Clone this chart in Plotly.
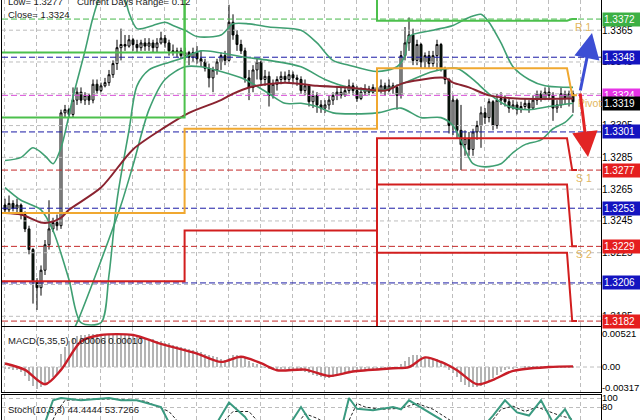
import plotly.graph_objects as go

# ---------------- data ----------------
bars = list(range(143))
opens = [
1.3255,1.3252,1.3256,1.3253,1.3255,1.3249,1.3240,1.3227,1.3207,1.3203,
1.3214,1.3230,1.3240,1.3244,1.3242,1.3313,1.3315,1.3312,1.3321,1.3326,
1.3321,1.3324,1.3321,1.3331,1.3327,1.3330,1.3332,1.3337,1.3344,1.3354,
1.3356,1.3355,1.3359,1.3356,1.3354,1.3357,1.3355,1.3357,1.3354,1.3357,
1.3360,1.3357,1.3352,1.3351,1.3352,1.3349,1.3351,1.3348,1.3351,1.3347,
1.3345,1.3341,1.3335,1.3340,1.3345,1.3349,1.3346,1.3370,1.3362,1.3356,
1.3352,1.3335,1.3329,1.3340,1.3345,1.3334,1.3336,1.3324,1.3331,1.3334,
1.3336,1.3334,1.3337,1.3335,1.3334,1.3327,1.3330,1.3320,1.3324,1.3318,
1.3316,1.3318,1.3321,1.3324,1.3326,1.3324,1.3327,1.3330,1.3327,1.3322,
1.3326,1.3328,1.3326,1.3329,1.3327,1.3330,1.3327,1.3330,1.3329,1.3324,
1.3349,1.3357,1.3362,1.3346,1.3356,1.3345,1.3349,1.3344,1.3349,1.3356,
1.3341,1.3334,1.3305,1.3321,1.3302,1.3293,1.3297,1.3290,1.3301,1.3305,
1.3313,1.3310,1.3320,1.3305,1.3321,1.3322,1.3320,1.3316,1.3318,1.3315,
1.3317,1.3319,1.3316,1.3321,1.3325,1.3322,1.3326,1.3324,1.3316,1.3318,
1.3325,1.3322,1.3325]
highs = [
1.3259,1.3261,1.3258,1.3259,1.3256,1.3251,1.3242,1.3228,1.3209,1.3217,
1.3233,1.3258,1.3247,1.3249,1.3315,1.3318,1.3316,1.3329,1.3329,1.3329,
1.3326,1.3325,1.3334,1.3334,1.3332,1.3335,1.3340,1.3346,1.3359,1.3366,
1.3362,1.3362,1.3360,1.3359,1.3359,1.3360,1.3360,1.3359,1.3360,1.3364,
1.3362,1.3359,1.3356,1.3354,1.3354,1.3354,1.3352,1.3354,1.3355,1.3352,
1.3347,1.3344,1.3342,1.3347,1.3351,1.3352,1.3381,1.3375,1.3365,1.3359,
1.3354,1.3340,1.3343,1.3347,1.3346,1.3340,1.3339,1.3334,1.3336,1.3339,
1.3339,1.3340,1.3339,1.3337,1.3336,1.3334,1.3331,1.3327,1.3326,1.3321,
1.3321,1.3324,1.3326,1.3330,1.3329,1.3330,1.3334,1.3332,1.3330,1.3329,
1.3331,1.3330,1.3331,1.3332,1.3334,1.3332,1.3334,1.3332,1.3331,1.3352,
1.3367,1.3373,1.3366,1.3359,1.3357,1.3351,1.3352,1.3352,1.3359,1.3357,
1.3342,1.3335,1.3324,1.3322,1.3318,1.3302,1.3301,1.3303,1.3308,1.3317,
1.3316,1.3322,1.3321,1.3325,1.3326,1.3324,1.3322,1.3321,1.3320,1.3320,
1.3322,1.3321,1.3324,1.3327,1.3327,1.3329,1.3329,1.3326,1.3321,1.3329,
1.3327,1.3327,1.3327]
lows = [
1.3250,1.3250,1.3251,1.3249,1.3246,1.3238,1.3224,1.3193,1.3189,1.3198,
1.3211,1.3227,1.3238,1.3239,1.3240,1.3310,1.3310,1.3310,1.3318,1.3319,
1.3318,1.3318,1.3319,1.3325,1.3326,1.3329,1.3330,1.3335,1.3340,1.3346,
1.3352,1.3354,1.3352,1.3351,1.3352,1.3352,1.3352,1.3351,1.3351,1.3356,
1.3354,1.3349,1.3349,1.3348,1.3347,1.3346,1.3343,1.3345,1.3344,1.3342,
1.3339,1.3329,1.3326,1.3337,1.3340,1.3343,1.3345,1.3359,1.3352,1.3350,
1.3332,1.3321,1.3326,1.3334,1.3331,1.3330,1.3317,1.3322,1.3327,1.3331,
1.3332,1.3332,1.3331,1.3330,1.3325,1.3324,1.3317,1.3316,1.3313,1.3313,
1.3313,1.3315,1.3318,1.3321,1.3322,1.3323,1.3325,1.3324,1.3320,1.3321,
1.3324,1.3324,1.3325,1.3325,1.3325,1.3324,1.3326,1.3325,1.3315,1.3322,
1.3346,1.3352,1.3343,1.3343,1.3341,1.3341,1.3341,1.3342,1.3340,1.3339,
1.3331,1.3300,1.3299,1.3297,1.3277,1.3286,1.3286,1.3286,1.3296,1.3291,
1.3306,1.3307,1.3302,1.3303,1.3318,1.3317,1.3313,1.3315,1.3312,1.3313,
1.3315,1.3313,1.3315,1.3318,1.3320,1.3321,1.3321,1.3308,1.3313,1.3316,
1.3318,1.3317,1.3313]
closes = [
1.3252,1.3256,1.3253,1.3255,1.3249,1.3240,1.3227,1.3207,1.3203,1.3214,
1.3230,1.3240,1.3244,1.3242,1.3313,1.3315,1.3312,1.3321,1.3326,1.3321,
1.3324,1.3321,1.3331,1.3327,1.3330,1.3332,1.3337,1.3344,1.3354,1.3356,
1.3355,1.3359,1.3356,1.3354,1.3357,1.3355,1.3357,1.3354,1.3357,1.3360,
1.3357,1.3352,1.3351,1.3352,1.3349,1.3351,1.3348,1.3351,1.3347,1.3345,
1.3341,1.3335,1.3340,1.3345,1.3349,1.3346,1.3370,1.3362,1.3356,1.3352,
1.3335,1.3329,1.3340,1.3345,1.3334,1.3336,1.3324,1.3331,1.3334,1.3336,
1.3334,1.3337,1.3335,1.3334,1.3327,1.3330,1.3320,1.3324,1.3318,1.3316,
1.3318,1.3321,1.3324,1.3326,1.3324,1.3327,1.3330,1.3327,1.3322,1.3326,
1.3328,1.3326,1.3329,1.3327,1.3330,1.3327,1.3330,1.3329,1.3324,1.3349,
1.3357,1.3362,1.3346,1.3356,1.3345,1.3349,1.3344,1.3349,1.3356,1.3341,
1.3334,1.3305,1.3321,1.3302,1.3293,1.3297,1.3290,1.3301,1.3305,1.3313,
1.3310,1.3320,1.3305,1.3321,1.3322,1.3320,1.3316,1.3318,1.3315,1.3317,
1.3319,1.3316,1.3321,1.3325,1.3322,1.3326,1.3324,1.3316,1.3318,1.3325,
1.3322,1.3325,1.3320]

band_up_x = [0,4,7,10,12,14,17,20,22,24,27,30,31,33,37,40,42,45,48,54,
             57,61,66,74,78,82,86,93,98,100,101,107,112,116,119,121,124,127,131,135,142]
band_up = [1.3283,1.3285,1.3291,1.3286,1.3281,1.3291,1.3323,1.3352,1.3373,1.3387,
           1.3392,1.3384,1.3376,1.3366,1.3368,1.3370,1.3368,1.3365,1.3361,1.3362,
           1.3369,1.3369,1.3367,1.3365,1.3357,1.3346,1.3343,1.3339,1.3342,1.3349,
           1.3361,1.3365,1.3368,1.3373,1.3375,1.3370,1.3357,1.3342,1.3334,1.3330,1.3329]
band_mid_x = [0,4,9,12,16,19,24,26,28,31,33,36,40,45,49,60,66,74,80,86,
              94,100,107,113,117,121,126,131,136,142]
band_mid = [1.3266,1.3258,1.3252,1.3239,1.3208,1.3181,1.3181,1.3211,1.3258,1.3302,
            1.3330,1.3340,1.3344,1.3348,1.3352,1.3348,1.3346,1.3342,1.3334,1.3329,
            1.3327,1.3332,1.3339,1.3341,1.3334,1.3325,1.3317,1.3315,1.3317,1.3319]
band_low_x = [17,18,24,29,32,36,40,45,49,54,60,66,70,74,78,82,93,99,104,109,
              112,115,117,120,124,127,130,134,137,140,142]
band_low = [1.3176,1.3181,1.3220,1.3255,1.3280,1.3315,1.3334,1.3342,1.3342,1.3339,
            1.3334,1.3325,1.3319,1.3319,1.3317,1.3313,1.3313,1.3316,1.3310,1.3310,
            1.3305,1.3290,1.3281,1.3279,1.3281,1.3288,1.3293,1.3296,1.3303,1.3307,1.3312]
ma_x = [0,4,9,11,14,16,24,32,40,46,54,57,61,70,78,86,95,100,110,112,116,121,128,142]
ma_vals = [1.3250,1.3249,1.3244,1.3244,1.3247,1.3252,1.3266,1.3290,1.3304,1.3313,
           1.3321,1.3325,1.3329,1.3332,1.3330,1.3329,1.3327,1.3332,1.3335,1.3332,
           1.3329,1.3324,1.3322,1.3322]

# daily pivot levels: day1, day2, day3, next day
day_edges = [-1, 44.9, 93, 140.5, 141.8, 143]
piv_r2 = [1.3351, 1.3440, 1.3440, 1.3440]
piv_r1 = [1.3310, 1.3420, 1.3371, 1.3372]
piv_p = [1.3250, 1.3303, 1.3341, 1.3324]
piv_s1 = [1.3207, 1.3239, 1.3297, 1.3277]
piv_s2 = [1.3150, 1.3150, 1.3268, 1.3229]
piv_s3 = [1.3150, 1.3150, 1.3225, 1.3182]

level_values = [1.3372, 1.3348, 1.3324, 1.3301, 1.3277, 1.3253, 1.3229, 1.3206, 1.3182]
level_kinds = ['R', 'M', 'P', 'M', 'S', 'M', 'S', 'M', 'S']
current_price = 1.3319
grid_levels = [1.3185, 1.3205, 1.3225, 1.3245, 1.3265, 1.3285, 1.3305, 1.3325, 1.3345, 1.3365]
price_ticks = [1.3185, 1.3225, 1.3245, 1.3265, 1.3285, 1.3305, 1.3345, 1.3365]

macd_hist = [
-0.0002,-0.0003,-0.0004,-0.0005,-0.0008,
-0.0014,-0.0022,-0.0030,-0.0034,-0.0032,-0.0028,
-0.0022,-0.0016,-0.0012,
0.0020,
0.0032,0.0040,0.0045,0.0048,0.0050,0.0050,0.0051,0.0052,0.0052,0.00521,0.0052,0.0052,0.0052,0.0052,0.0052,0.0051,0.0050,0.0049,
0.0048,0.0047,0.0045,0.0044,0.0043,0.0041,0.0040,0.0038,0.0037,0.0035,0.0033,0.0032,0.0030,0.0028,0.0026,0.0025,0.0023,0.0021,0.0019,0.0017,0.0015,0.0013,0.0011,
0.0014,0.0018,0.0019,0.0017,0.0014,0.0010,0.0007,0.0004,0.0002,
-0.0001,-0.0002,-0.0003,-0.0003,-0.0002,-0.0002,-0.0003,-0.0004,-0.0005,-0.0006,-0.0008,-0.0010,-0.0012,-0.0014,-0.0016,-0.0017,
-0.0017,-0.0016,-0.0014,-0.0012,-0.0010,-0.0009,-0.0008,
-0.0007,-0.0006,-0.0005,-0.0004,-0.0004,-0.0003,-0.0003,-0.0002,-0.0002,-0.0001,-0.0001,0.0004,
0.0010,0.0015,0.0018,0.0018,0.0017,0.0016,0.0014,0.0013,0.0012,0.0008,
0.0004,-0.0005,-0.0010,-0.0016,
-0.0024,-0.0028,-0.0031,-0.00317,-0.0031,-0.0029,-0.0026,-0.0022,-0.0017,
-0.0012,-0.0008,-0.0005,-0.0003,-0.0002,-0.0001,0.0000,0.0001,
0.0001,0.0001,0.0002,0.0002,0.0002,0.0001,0.0001,0.0001,0.0001,0.0001,0.0001,0.00006]
macd_sig_x = [0,5,10,14,19,24,32,39,48,54,59,64,68,75,81,87,97,101,105,109,113,118,122,127,136,142]
macd_sig = [0.00055,-0.00045,-0.0027,-0.00045,0.0040,0.0050,0.0050,0.0036,0.0021,0.0008,
            0.0016,0.0006,-0.0005,-0.0004,-0.0014,-0.0007,-0.0002,0.0,0.0015,0.0008,
            -0.0005,-0.0027,-0.0020,-0.0006,0.0,0.0001]
macd_ticks = [0.00521, 0.0, -0.00317]
macd_ticktext = ['0.00521', '0.00', '-0.00317']

stoch_x = [0,5,9,12,14,19,26,29,33,39,41,45,49,52,56,60,62,66,70,74,76,80,84,86,88,92,97,99,101,106,
           109,111,115,119,122,125,128,131,134,137,140,142]
stoch_main = [30,10,20,95,100,95,100,95,95,80,45,20,35,30,90,58,30,15,25,80,52,30,28,100,76,73,80,75,95,68,
              52,30,10,30,61,95,68,61,95,45,75,44.4444]
stoch_sig_x = [0,5,10,13,15,20,27,30,35,41,44,48,53,57,61,64,68,72,75,78,82,86,88,90,94,99,103,107,110,113,
               117,121,124,127,130,133,136,139,142]
stoch_sig = [35,15,15,70,95,97,98,96,93,70,40,28,32,70,70,40,22,30,65,55,35,50,88,80,75,77,88,75,55,35,
             18,40,75,82,70,80,70,60,53.7266]

# ---------------- styles ----------------
FONT = 'Liberation Sans, Arial, sans-serif'
GRID = '#bdbdbd'
GREEN_BAND = '#3f9f72'
kind_color = {'R': '#45b84a', 'M': '#1a1aa6', 'P': '#d94fd9', 'S': '#c42a2a'}
box_color = {'R': '#3cb044', 'M': '#1414c0', 'P': '#e633e6', 'S': '#e51e1e'}

fig = go.Figure()

XR = [-0.75, 149]

# grid lines of the price panel
for v in grid_levels:
    fig.add_trace(go.Scatter(x=[XR[0], XR[1]], y=[v, v], mode='lines',
                             line=dict(color=GRID, width=1, dash='4px,3px'), hoverinfo='skip'))

# dashed level lines
for v, k in zip(level_values, level_kinds):
    fig.add_trace(go.Scatter(x=[XR[0], XR[1]], y=[v, v], mode='lines',
                             line=dict(color=kind_color[k], width=1, dash='6px,3px'),
                             hoverinfo='skip'))

# bands and MA
sp = dict(shape='spline', smoothing=0.8)
fig.add_trace(go.Scatter(x=band_up_x, y=band_up, mode='lines', line=dict(color=GREEN_BAND, width=1.6, **sp)))
fig.add_trace(go.Scatter(x=band_mid_x, y=band_mid, mode='lines', line=dict(color=GREEN_BAND, width=1.6, **sp)))
fig.add_trace(go.Scatter(x=band_low_x, y=band_low, mode='lines', line=dict(color=GREEN_BAND, width=1.6, **sp)))
fig.add_trace(go.Scatter(x=ma_x, y=ma_vals, mode='lines', line=dict(color='#8a2330', width=2, **sp)))


def step(levels):
    e = day_edges
    xs = [e[0], e[1], e[1], e[2], e[2], e[3], e[4], e[5]]
    ys = [levels[0], levels[0], levels[1], levels[1], levels[2], levels[2], levels[3], levels[3]]
    return xs, ys


for lv, col in [(piv_r2, '#4cc04c'), (piv_r1, '#4cc04c'), (piv_p, '#f0a830'),
                (piv_s1, '#d21e1e'), (piv_s2, '#d21e1e'), (piv_s3, '#d21e1e')]:
    xs, ys = step(lv)
    fig.add_trace(go.Scatter(x=xs, y=ys, mode='lines', line=dict(color=col, width=2)))

# candles
fig.add_trace(go.Candlestick(x=bars, open=opens, high=highs, low=lows, close=closes,
                             increasing=dict(line=dict(color='black', width=1), fillcolor='white'),
                             decreasing=dict(line=dict(color='black', width=1), fillcolor='#0c1f10'),
                             whiskerwidth=0))

# MACD panel
fig.add_trace(go.Scatter(x=[XR[0], XR[1]], y=[0, 0], mode='lines', xaxis='x2', yaxis='y2',
                         line=dict(color=GRID, width=1, dash='4px,3px')))
fig.add_trace(go.Bar(x=bars, y=macd_hist, xaxis='x2', yaxis='y2', width=0.4,
                     marker=dict(color='#b4b4b4', line=dict(width=0))))
fig.add_trace(go.Scatter(x=macd_sig_x, y=macd_sig, mode='lines', xaxis='x2', yaxis='y2',
                         line=dict(color='#c81e28', width=2.4, **sp)))

# Stochastic panel
fig.add_trace(go.Scatter(x=stoch_sig_x, y=stoch_sig, mode='lines', xaxis='x3', yaxis='y3',
                         line=dict(color='#222222', width=1, dash='3px,2px')))
fig.add_trace(go.Scatter(x=stoch_x, y=stoch_main, mode='lines', xaxis='x3', yaxis='y3',
                         line=dict(color='#3a9a80', width=2)))

xcommon = dict(range=XR, showticklabels=False, showgrid=True, gridcolor=GRID, griddash='4px,3px',
               tick0=7.75, dtick=8, showline=True, mirror=True, linecolor='black', linewidth=1,
               zeroline=False, ticks='', fixedrange=True, automargin=False)
ycommon = dict(side='right', showline=True, mirror=True, linecolor='black', linewidth=1,
               zeroline=False, ticks='', gridcolor=GRID, griddash='4px,3px', fixedrange=True,
               automargin=False, ticklabelstandoff=-2)

fig.update_layout(
    template='none',
    width=640, height=420, margin=dict(l=2, r=39, t=0, b=0, pad=0, autoexpand=False),
    paper_bgcolor='white', plot_bgcolor='white', showlegend=False,
    font=dict(family=FONT, size=10, color='black'),
    bargap=0,
    xaxis=dict(**xcommon, anchor='y', domain=[0, 1], rangeslider=dict(visible=False)),
    xaxis2=dict(**xcommon, anchor='y2', domain=[0, 1], matches='x'),
    xaxis3=dict(**xcommon, anchor='y3', domain=[0, 1], matches='x'),
    yaxis=dict(**ycommon, domain=[0.2238, 1.0], range=[1.31789, 1.33840], anchor='x',
               tickvals=price_ticks, ticktext=[f'{t:.4f}' for t in price_ticks], showgrid=False,
               tickfont=dict(family=FONT, size=10, color='black')),
    yaxis2=dict(**ycommon, domain=[0.0667, 0.2214], range=[-0.0039, 0.00625], anchor='x2',
                tickvals=macd_ticks, ticktext=macd_ticktext, showgrid=False,
                tickfont=dict(family=FONT, size=9.5, color='black')),
    yaxis3=dict(**ycommon, domain=[0.0, 0.0595], range=[51.1, 106.7], anchor='x3',
                tickvals=[100, 80], ticktext=['100', '80'], showgrid=True,
                tickfont=dict(family=FONT, size=9.5, color='black')),
)

ann = []
# right-hand price boxes
for v, k in list(zip(level_values, level_kinds)) + [(current_price, 'C')]:
    bg = '#000000' if k == 'C' else box_color[k]
    ann.append(dict(x=1, xref='paper', xanchor='left', xshift=1, y=v, yref='y', yanchor='middle',
                    text=f'{v:.4f}', showarrow=False, bgcolor=bg, width=35, height=11, align='left',
                    borderpad=1, font=dict(family=FONT, size=10, color='white')))

# pivot labels
lab_col = '#e2b65e'
for txt, v, xx in [('R 1', piv_r1[3], 144.7), ('Pivot', piv_p[3], 146.2), ('S 1', piv_s1[3], 144.7),
                   ('S 2', piv_s2[3], 144.7)]:
    ann.append(dict(x=xx, y=v, xref='x', yref='y', text=txt, showarrow=False, yshift=-8,
                    font=dict(family=FONT, size=10.5, color=lab_col)))

# forecast arrows
ann.append(dict(x=146.75, y=1.33632, xref='x', yref='y', ax=-12, ay=59, text='', showarrow=True,
                arrowhead=2, arrowsize=1.7, arrowwidth=3, arrowcolor='#3c4ed4'))
ann.append(dict(x=145.75, y=1.32852, xref='x', yref='y', ax=-8, ay=-65, text='', showarrow=True,
                arrowhead=2, arrowsize=1.7, arrowwidth=3, arrowcolor='#e22424'))

# info text
txtfont = dict(family=FONT, size=9.5, color='#1a1a1a')
for txt, px, py in [('Low= 1.3277', 6, 2), ('Current Days Range= 0.12', 75, 2), ('Close= 1.3324', 6, 15),
                    ('MACD(5,35,5) 0.00006 0.00010', 6, 340), ('Stoch(10,3,3) 44.4444 53.7266', 6, 409)]:
    ann.append(dict(x=(px - 2) / 599, y=1 - py / 420, xref='paper', yref='paper', xanchor='left',
                    yanchor='middle', text=txt, showarrow=False, font=txtfont))

fig.update_layout(annotations=ann)
fig.write_html("out.html", config={'displayModeBar': False},
               post_script="document.body.style.margin='0px';document.body.style.overflow='hidden';")
